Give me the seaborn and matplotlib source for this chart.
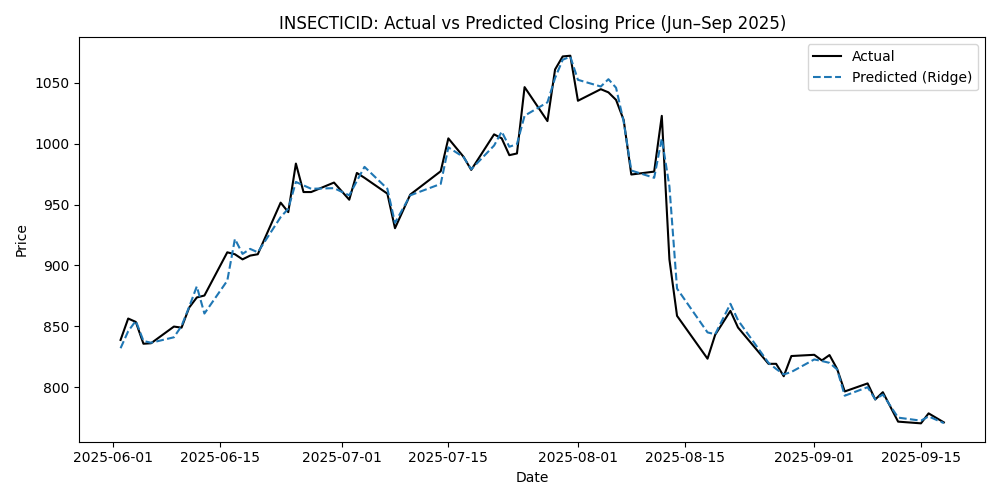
# Actual vs predicted closing price for INSECTICID, Jun-Sep 2025.

import pandas as pd
import matplotlib
matplotlib.use('Agg')
import matplotlib.pyplot as plt
import seaborn as sns

dates = ['2025-06-02', '2025-06-03', '2025-06-04', '2025-06-05', '2025-06-06',
         '2025-06-09', '2025-06-10', '2025-06-11', '2025-06-12', '2025-06-13',
         '2025-06-16', '2025-06-17', '2025-06-18', '2025-06-19', '2025-06-20',
         '2025-06-23', '2025-06-24', '2025-06-25', '2025-06-26', '2025-06-27',
         '2025-06-30', '2025-07-02', '2025-07-03', '2025-07-04', '2025-07-07',
         '2025-07-08', '2025-07-10', '2025-07-14', '2025-07-15', '2025-07-17',
         '2025-07-18', '2025-07-21', '2025-07-22', '2025-07-23', '2025-07-24',
         '2025-07-25', '2025-07-28', '2025-07-29', '2025-07-30', '2025-07-31',
         '2025-08-01', '2025-08-04', '2025-08-05', '2025-08-06', '2025-08-07',
         '2025-08-08', '2025-08-11', '2025-08-12', '2025-08-13', '2025-08-14',
         '2025-08-18', '2025-08-19', '2025-08-21', '2025-08-22', '2025-08-26',
         '2025-08-27', '2025-08-28', '2025-08-29', '2025-09-01', '2025-09-02',
         '2025-09-03', '2025-09-04', '2025-09-05', '2025-09-08', '2025-09-09',
         '2025-09-10', '2025-09-12', '2025-09-15', '2025-09-16', '2025-09-18']

actual = [838.8, 856.4, 853.6, 835.7, 836.1,
          849.8, 848.9, 865.4, 873.7, 875.3,
          910.8, 909.2, 905.0, 908.1, 909.2,
          951.6, 943.8, 983.7, 960.3, 960.3,
          968.1, 954.0, 976.0, 972.0, 959.0,
          930.6, 958.2, 977.4, 1004.4, 989.2,
          978.5, 1007.7, 1004.4, 990.6, 992.0,
          1046.5, 1018.6, 1061.0, 1071.7, 1072.3,
          1035.3, 1044.8, 1042.2, 1036.0, 1019.5,
          974.7, 977.1, 1022.9, 905.0, 858.6,
          823.4, 843.0, 862.7, 849.0, 819.2,
          819.2, 809.0, 825.6, 826.6, 822.0,
          826.4, 815.0, 796.5, 803.1, 789.9,
          795.9, 771.7, 770.3, 778.5, 771.1]

predicted = [832.0, 846.0, 854.5, 838.0, 836.5,
             841.0, 850.3, 866.0, 882.8, 860.5,
             887.5, 921.8, 909.5, 913.6, 910.8,
             939.7, 946.6, 968.6, 965.8, 963.0,
             963.5, 957.6, 969.4, 981.0, 963.0,
             935.0, 957.6, 967.0, 997.0, 989.0,
             979.0, 998.5, 1010.0, 997.5, 999.7,
             1023.0, 1034.0, 1054.0, 1069.0, 1071.5,
             1052.5, 1047.0, 1053.0, 1046.0, 1018.0,
             978.0, 972.0, 1004.3, 965.0, 881.0,
             845.0, 843.5, 868.5, 855.0, 820.0,
             815.0, 810.5, 812.5, 822.8, 821.5,
             820.0, 814.6, 793.0, 800.0, 790.0,
             794.0, 775.0, 772.5, 776.0, 770.5]

df = pd.DataFrame({'Date': pd.to_datetime(dates),
                   'Actual': actual,
                   'Predicted': predicted})

fig, ax = plt.subplots(figsize=(10, 5), dpi=100)
sns.lineplot(data=df, x='Date', y='Actual', color='black', label='Actual', ax=ax)
sns.lineplot(data=df, x='Date', y='Predicted', color='#1f77b4', linestyle='--',
             label='Predicted (Ridge)', ax=ax)
ax.set_title('INSECTICID: Actual vs Predicted Closing Price (Jun–Sep 2025)')
ax.set_xlabel('Date')
ax.set_ylabel('Price')
ax.legend(loc='upper right')
plt.tight_layout()
plt.savefig('out.png')
